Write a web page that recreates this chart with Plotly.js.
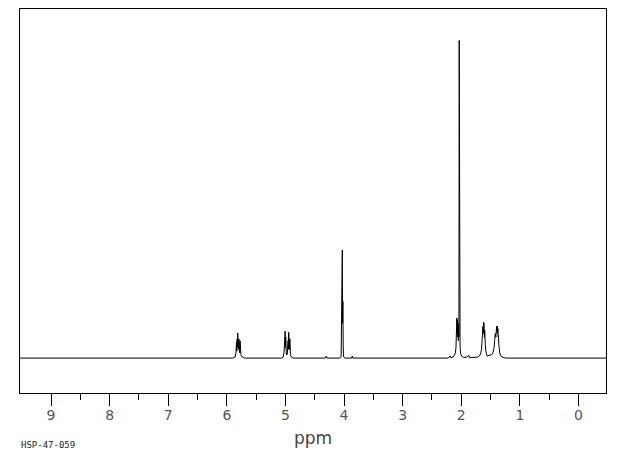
<!DOCTYPE html>
<html>
<head>
<meta charset="utf-8">
<script src="https://cdn.plot.ly/plotly-3.0.1.min.js"></script>
<style>html,body{margin:0;padding:0;background:#fff;}#chart{width:620px;height:455px;}</style>
</head>
<body>
<div id="chart"></div>
<script>
// Chemical shift (ppm) and intensity (arbitrary units)
const shiftPpm = [
  9.53, 6.00,
  5.90, 5.86, 5.845, 5.835, 5.83, 5.825, 5.82, 5.815, 5.81, 5.805, 5.80, 5.795, 5.79, 5.785, 5.78, 5.775, 5.77, 5.765, 5.76, 5.75, 5.73, 5.70,
  5.07, 5.04, 5.025, 5.015, 5.01, 5.005, 5.00, 4.995, 4.985, 4.97, 4.955, 4.95, 4.945, 4.94, 4.935, 4.93, 4.925, 4.915, 4.90, 4.87,
  4.32, 4.30, 4.29, 4.08, 4.05, 4.045, 4.04, 4.035, 4.03, 4.025, 4.02, 4.015, 4.01, 3.99, 3.87, 3.86, 3.85,
  2.22, 2.19, 2.18, 2.14, 2.12, 2.10, 2.09, 2.085, 2.08, 2.075, 2.07, 2.065, 2.06, 2.055, 2.05, 2.045, 2.04, 2.035, 2.03, 2.025, 2.02, 2.01, 1.99, 1.96, 1.90, 1.87, 1.86,
  1.72, 1.69, 1.67, 1.655, 1.645, 1.64, 1.635, 1.63, 1.625, 1.62, 1.615, 1.61, 1.605, 1.60, 1.59, 1.58, 1.56,
  1.50, 1.48, 1.46, 1.44, 1.43, 1.42, 1.41, 1.405, 1.40, 1.395, 1.39, 1.385, 1.38, 1.375, 1.37, 1.365, 1.36, 1.35, 1.34, 1.32, 1.30, 1.27, 1.23,
  -0.47
];
const intensity = [
  0, 0,
  0, 0.3, 1.5, 4.5, 2, 5.5, 3, 7.2, 3.5, 6.5, 2.5, 5.5, 2, 4.5, 1.5, 5, 1.5, 3.5, 1, 0.5, 0.2, 0,
  0, 0.3, 1.5, 6.5, 3, 7.7, 3, 6, 1, 1, 5, 2.5, 7.4, 3, 7.2, 2.5, 5.5, 1, 0.3, 0,
  0, 0.6, 0, 0, 0.4, 16.3, 6, 10, 31, 10, 16.3, 4, 0.5, 0, 0, 0.6, 0,
  0, 0.6, 0.1, 0.3, 0.8, 1.5, 3, 6, 9, 11.5, 7, 11, 6, 9, 5, 10, 6, 91, 8, 10, 3, 1.2, 0.5, 0.2, 0.3, 0.8, 0.1,
  0.3, 0.6, 1.2, 2.5, 5, 8, 6, 9, 7, 10.3, 7.5, 10, 6, 8, 4, 2, 0.6,
  0.8, 1, 1.5, 3, 5, 7, 6, 8.5, 7, 9.2, 7.5, 9, 7, 8.5, 6, 6.5, 4, 2.5, 1.2, 0.5, 0.3, 0.1, 0,
  0
];
const xTickVals = [9, 8, 7, 6, 5, 4, 3, 2, 1, 0];
const xTickText = ['9', '8', '7', '6', '5', '4', '3', '2', '1', '0'];
const xMinorTickVals = [8.5, 7.5, 6.5, 5.5, 4.5, 3.5, 2.5, 1.5, 0.5];
const xRange = [9.53, -0.47];
const yRange = [-10, 100];

const trace = {
  x: shiftPpm, y: intensity, type: 'scatter', mode: 'lines',
  line: {color: '#000', width: 1, shape: 'linear'},
  hoverinfo: 'skip'
};

const layout = {
  width: 620, height: 455,
  margin: {l: 20, r: 14, t: 9, b: 62},
  paper_bgcolor: '#fff', plot_bgcolor: '#fff',
  showlegend: false,
  font: {family: 'DejaVu Sans', color: '#333'},
  xaxis: {
    range: xRange, autorange: false,
    tickmode: 'array', tickvals: xTickVals, ticktext: xTickText,
    ticks: 'outside', ticklen: 12, tickwidth: 1, tickcolor: '#000',
    ticklabelstandoff: -3,
    minor: {tickmode: 'array', tickvals: xMinorTickVals, ticks: 'outside', ticklen: 6, tickwidth: 1, tickcolor: '#000', showgrid: false},
    showline: true, mirror: true, linecolor: '#000', linewidth: 1,
    showgrid: false, zeroline: false,
    tickfont: {family: 'DejaVu Sans', size: 14, color: '#555'},
    title: {text: 'ppm', font: {family: 'DejaVu Sans', size: 17, color: '#444'}, standoff: 10}
  },
  yaxis: {
    range: yRange, autorange: false,
    showline: true, mirror: true, linecolor: '#000', linewidth: 1,
    showgrid: false, zeroline: false, showticklabels: false, ticks: ''
  },
  annotations: [{
    text: 'HSP-47-059', xref: 'paper', yref: 'paper', x: -0.002, y: -0.135,
    xanchor: 'left', yanchor: 'middle', showarrow: false,
    font: {family: 'DejaVu Sans Mono', size: 9, color: '#222'}
  }]
};

Plotly.newPlot('chart', [trace], layout, {displayModeBar: false, staticPlot: true});
</script>
</body>
</html>
